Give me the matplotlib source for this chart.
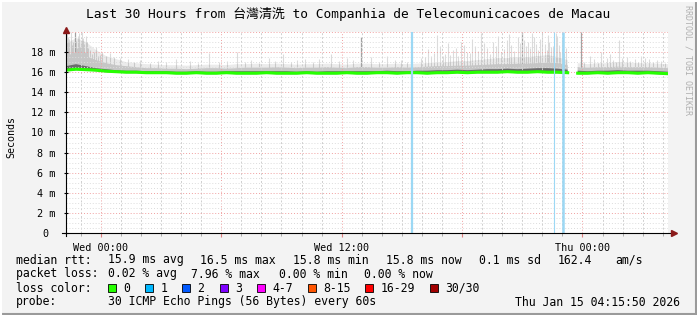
import numpy as np
import matplotlib.pyplot as plt
import matplotlib.dates as mdates
from matplotlib.ticker import MultipleLocator, FuncFormatter
from matplotlib.patches import Rectangle
from matplotlib.lines import Line2D
from datetime import datetime, timedelta

W, H = 697, 315
MONO = ['DejaVu Sans Mono', 'Noto Sans CJK TC']

end_time = datetime(2026, 1, 15, 4, 15, 50)
start_time = end_time - timedelta(hours=30)

# readings every 30 min from the start of the window (ms)
median_ms = [16.2, 16.3, 16.25, 16.2, 16.1, 16.05, 16.0, 16.0, 15.95, 15.95,
             15.95, 15.9, 15.9, 15.95, 15.9, 15.9, 15.95, 15.9, 15.9, 15.9,
             15.95, 15.9, 15.9, 15.9, 15.95, 15.9, 15.9, 15.9, 15.95, 15.9,
             15.9, 15.95, 15.95, 15.9, 15.95, 15.95, 15.9, 15.95, 15.95, 16.0,
             15.95, 16.0, 16.0, 16.0, 16.05, 16.0, 16.0, 16.05, 16.0, 16.0,
             15.95, 15.9, 15.9, 15.95, 15.9, 15.95, 15.95, 15.9, 15.95, 15.9, 15.85]
dark_ms = [16.6, 16.8, 16.6, 16.4, 16.3, 16.2, 16.15, 16.15, 16.1, 16.1,
           16.1, 16.05, 16.05, 16.1, 16.05, 16.05, 16.1, 16.1, 16.1, 16.1,
           16.1, 16.1, 16.1, 16.05, 16.1, 16.05, 16.1, 16.1, 16.1, 16.1,
           16.1, 16.1, 16.15, 16.1, 16.1, 16.15, 16.15, 16.2, 16.2, 16.25,
           16.2, 16.25, 16.3, 16.3, 16.35, 16.3, 16.35, 16.4, 16.4, 16.35,
           16.25, 16.15, 16.1, 16.15, 16.15, 16.2, 16.15, 16.15, 16.15, 16.1, 16.05]
mid_ms = [17.6, 18.0, 17.6, 17.2, 16.9, 16.7, 16.6, 16.5, 16.4, 16.4,
          16.35, 16.35, 16.3, 16.35, 16.4, 16.4, 16.35, 16.4, 16.45, 16.45,
          16.45, 16.5, 16.45, 16.4, 16.45, 16.45, 16.5, 16.45, 16.4, 16.5,
          16.5, 16.45, 16.45, 16.5, 16.45, 16.5, 16.55, 16.6, 16.6, 16.65,
          16.65, 16.7, 16.75, 16.8, 16.8, 16.85, 16.85, 16.9, 16.95, 16.9,
          16.7, 16.5, 16.45, 16.5, 16.5, 16.55, 16.5, 16.5, 16.5, 16.45, 16.4]
high_ms = [18.8, 19.4, 19.0, 18.2, 17.6, 17.3, 17.0, 16.9, 16.8, 16.75,
           16.7, 16.7, 16.65, 16.7, 16.75, 16.75, 16.7, 16.8, 16.8, 16.85,
           16.8, 16.85, 16.8, 16.75, 16.8, 16.8, 16.85, 16.8, 16.75, 16.85,
           16.85, 16.8, 16.8, 16.85, 16.8, 16.85, 16.9, 17.0, 17.0, 17.1,
           17.1, 17.2, 17.3, 17.4, 17.4, 17.5, 17.5, 17.6, 17.7, 17.5,
           17.2, 16.9, 16.8, 16.9, 16.9, 17.0, 16.95, 16.9, 16.9, 16.85, 16.8]
gap_hour = 25.2  # no data here

# single slow pings (hours from start, ms)
spike_hours = [0.05, 0.1, 0.15, 0.25, 0.3, 0.35, 0.5, 0.55, 0.6, 0.65, 0.7, 0.75, 0.8, 0.85,
               0.9, 0.95, 1.0, 1.05, 1.1, 1.2, 1.3, 1.4, 1.5, 1.6, 1.7, 1.8, 2.0, 2.2, 2.4,
               2.7, 3.1, 3.4, 3.7, 4.2, 4.6, 5.0, 5.5, 6.2, 6.6, 7.15, 7.6, 8.0, 8.5, 8.9,
               9.2, 9.6, 10.1, 10.4, 10.8, 11.2, 11.5, 11.9, 12.3, 12.6, 13.2, 13.6, 14.0,
               14.3, 15.2, 15.6, 16.0, 16.4, 16.7, 17.0, 17.7, 17.9, 18.05, 18.2, 18.35,
               18.5, 18.65, 18.8, 18.9, 19.05, 19.15, 19.3, 19.45, 19.55, 19.7, 19.85, 20.0,
               20.15, 20.25, 20.4, 20.55, 20.7, 20.85, 21.0, 21.15, 21.3, 21.45, 21.55, 21.7,
               21.85, 22.0, 22.1, 22.2, 22.35, 22.5, 22.6, 22.8, 22.9, 23.0, 23.1, 23.2,
               23.3, 23.4, 23.5, 23.6, 23.7, 23.85, 23.95, 24.0, 24.05, 24.15, 24.25, 24.4,
               24.45, 24.55, 24.6, 24.7, 24.8, 24.9, 25.8, 26.1, 26.3, 26.5, 26.65, 26.95,
               27.1, 27.25, 27.4, 27.55, 27.7, 27.95, 28.1, 28.35, 28.5, 28.65, 28.85, 29.05,
               29.25, 29.45, 29.65, 29.85]
spike_ms = [19.8, 19.5, 19.3, 20.0, 18.7, 19.0, 19.1, 18.4, 19.6, 19.9, 18.5, 18.9, 20.0, 19.4,
            18.8, 18.0, 19.6, 19.0, 18.4, 18.2, 17.8, 18.0, 18.5, 17.6, 17.7, 18.0, 17.6, 17.9, 17.5,
            17.4, 17.3, 17.0, 17.2, 16.9, 17.1, 17.0, 17.3, 17.1, 16.9, 17.9, 17.0, 17.1, 18.0, 17.0,
            17.2, 16.9, 17.4, 17.1, 17.8, 17.0, 17.2, 17.3, 17.0, 17.3, 17.8, 17.1, 17.4,
            17.2, 17.5, 17.0, 17.6, 17.2, 17.2, 17.0, 17.4, 17.5, 18.3, 17.6, 17.9,
            19.7, 18.6, 17.6, 17.8, 18.9, 17.7, 18.2, 18.4, 17.6, 19.0, 18.7, 18.0,
            17.9, 19.3, 18.6, 18.1, 19.9, 18.9, 18.4, 17.8, 19.0, 18.6, 19.6, 18.0,
            18.3, 19.2, 19.8, 18.7, 18.1, 19.5, 18.9, 19.2, 18.6, 19.0, 18.4, 19.9,
            19.5, 18.8, 18.2, 19.3, 20.0, 18.8, 18.2, 19.7, 19.0, 18.5, 18.6, 19.9,
            19.6, 18.7, 18.0, 19.3, 17.9, 18.4, 17.0, 17.6, 17.3, 16.9, 18.0, 17.4,
            17.8, 17.2, 17.0, 19.2, 17.4, 17.5, 17.1, 17.3, 17.0, 17.6, 17.4, 17.3,
            17.0, 17.2, 17.1, 16.9]
dark_spike_hours = [0.45, 14.7, 22.7, 25.65]
dark_spike_ms = [20.0, 19.5, 20.0, 20.0]

# one lost ping out of 30
loss_hours = [17.22, 24.31, 24.76]

loss_labels = ['0', '1', '2', '3', '4-7', '8-15', '16-29', '30/30']
loss_colors = ['#26ff00', '#00b8ff', '#0059ff', '#7e00ff', '#ff00ff', '#ff5500', '#ff0000', '#a10000']


def fx(px):
    return px / W


def fy(py):
    return 1 - py / H


def to_time(h):
    return mdates.date2num([start_time + timedelta(hours=float(v)) for v in np.atleast_1d(h)])


hours = np.arange(len(median_ms)) * 0.5
idx = np.searchsorted(hours, gap_hour)
hours_g = np.insert(hours, idx, gap_hour)
t = to_time(hours_g)


def with_gap(a):
    return np.insert(np.array(a, dtype=float), idx, np.nan)


med = with_gap(median_ms)
dark = with_gap(dark_ms)
mid = with_gap(mid_ms)
high = with_gap(high_ms)

fig = plt.figure(figsize=(W / 100, H / 100), dpi=100, facecolor='#f3f3f3')
ax = fig.add_axes([fx(66), fy(233), fx(668) - fx(66), fy(32) - fy(233)])
ax.set_facecolor('white')

# smoke
ax.fill_between(t, med, high, color='#ebebeb', lw=0, zorder=1)
base = np.interp(spike_hours, hours, median_ms)
ax.vlines(to_time(spike_hours), base, spike_ms, color='black', alpha=0.14, lw=0.8, zorder=1.1)
base_d = np.interp(dark_spike_hours, hours, median_ms)
ax.vlines(to_time(dark_spike_hours), base_d, dark_spike_ms, color='#a2a2a2', lw=0.9, zorder=1.2)
ax.fill_between(t, med, mid, color='#c6c6c6', lw=0, zorder=1.3)
ax.fill_between(t, med - 0.1, dark, color='#6a6a6a', lw=0, zorder=1.4)

# grid on top of smoke
ax.set_axisbelow(False)
ax.xaxis.set_major_locator(mdates.HourLocator(byhour=range(0, 24, 6)))
ax.xaxis.set_minor_locator(mdates.HourLocator())
ax.xaxis.set_major_formatter(FuncFormatter(
    lambda v, pos: mdates.num2date(v).strftime('%a %H:%M') if mdates.num2date(v).hour in (0, 12) else ''))
ax.yaxis.set_major_locator(MultipleLocator(2))
ax.yaxis.set_minor_locator(MultipleLocator(0.5))


def ms_label(v, pos):
    if v == 0:
        return '0 '
    if v >= 19.9:
        return ''
    return f'{v:.0f} m'


ax.yaxis.set_major_formatter(FuncFormatter(ms_label))
ax.grid(which='major', color='#f0a0a0', lw=0.7, ls=(0, (1, 2)))
ax.xaxis.grid(which='minor', color='#cfcfcf', lw=0.7, ls=(0, (2, 2)))
ax.yaxis.grid(which='minor', color='#dcdcdc', lw=0.7, ls=(0, (1, 2)))

# median line
ax.plot(t, med, color=loss_colors[0], lw=2.2, zorder=3)

# loss markers
ax.vlines(to_time(loss_hours), 0, 20, color='#9cd8f4', lw=[1.6, 0.8, 1.8], zorder=3.2)

ax.set_xlim(to_time(0)[0], to_time(30)[0])
ax.set_ylim(0, 20)
for s in ax.spines.values():
    s.set_visible(False)

ax.tick_params(axis='x', which='major', length=3, color='#e08080', labelsize=7.3, pad=4)
ax.tick_params(axis='x', which='minor', length=2, color='#a0a0a0')
ax.tick_params(axis='y', which='major', length=3, direction='inout', color='black', labelsize=7.3, pad=6)
ax.tick_params(axis='y', which='minor', length=0)
for lab in ax.get_xticklabels() + ax.get_yticklabels():
    lab.set_family(MONO)

# axis lines with arrows
dk = '#8b1a1a'
fig.add_artist(Line2D([fx(66), fx(66)], [fy(236), fy(30)], color='black', lw=0.8))
fig.add_artist(Line2D([fx(62), fx(673)], [fy(233), fy(233)], color='black', lw=0.8))
fig.add_artist(Line2D([fx(66)], [fy(29.5)], marker='^', ms=4.5, color=dk, lw=0))
fig.add_artist(Line2D([fx(674)], [fy(233)], marker='>', ms=4.5, color=dk, lw=0))

fig.text(fx(11), fy(137), 'Seconds', rotation=90, ha='center', va='center', fontsize=7.2, family=MONO)
fig.text(fx(348), fy(14), 'Last 30 Hours from 台灣清洗 to Companhia de Telecomunicacoes de Macau',
         ha='center', va='center', fontsize=9.3, family=MONO)
fig.text(fx(688), fy(5), 'RRDTOOL / TOBI OETIKER', rotation=-90, ha='center', va='top',
         fontsize=6, family=MONO, color='#b0b0b0')

# legend rows
fs = 8.3
rows = [
    [(15.5, 'median rtt:'), (107.5, '15.9 ms avg'), (200, '16.5 ms max'), (293, '15.8 ms min'),
     (386, '15.8 ms now'), (479, '0.1 ms sd'), (558, '162.4'), (615, 'am/s')],
    [(15.5, 'packet loss:'), (107.5, '0.02 % avg'), (191, '7.96 % max'), (279, '0.00 % min'),
     (364, '0.00 % now')],
    [(15.5, 'loss color:')],
    [(15.5, 'probe:'), (107.5, '30 ICMP Echo Pings (56 Bytes) every 60s')],
]
baselines = [263.5, 277.5, 291.5, 305.5]
for row, yb in zip(rows, baselines):
    for x, s in row:
        fig.text(fx(x), fy(yb), s, ha='left', va='baseline', fontsize=fs, family=MONO)
fig.text(fx(680), fy(305.5), 'Thu Jan 15 04:15:50 2026', ha='right', va='baseline', fontsize=fs, family=MONO)

box_x = [108, 145, 182, 219.5, 256.5, 307.5, 365, 430]
for bx, c, lab in zip(box_x, loss_colors, loss_labels):
    fig.add_artist(Rectangle((fx(bx), fy(292)), 8 / W, 8 / H, facecolor=c, edgecolor='black',
                             lw=0.6, transform=fig.transFigure))
    fig.text(fx(bx + 15.5), fy(291.5), lab, ha='left', va='baseline', fontsize=fs, family=MONO)

# frame
fig.add_artist(Line2D([0, 1], [fy(314), fy(314)], color='#9a9a9a', lw=1.5))
fig.add_artist(Line2D([fx(696), fx(696)], [0, 1], color='#9a9a9a', lw=1.5))
fig.add_artist(Line2D([0, 1], [fy(0.5), fy(0.5)], color='white', lw=1.5))
fig.add_artist(Line2D([fx(0.5), fx(0.5)], [0, 1], color='white', lw=1.5))

fig.savefig('out.png', dpi=100, facecolor=fig.get_facecolor())
